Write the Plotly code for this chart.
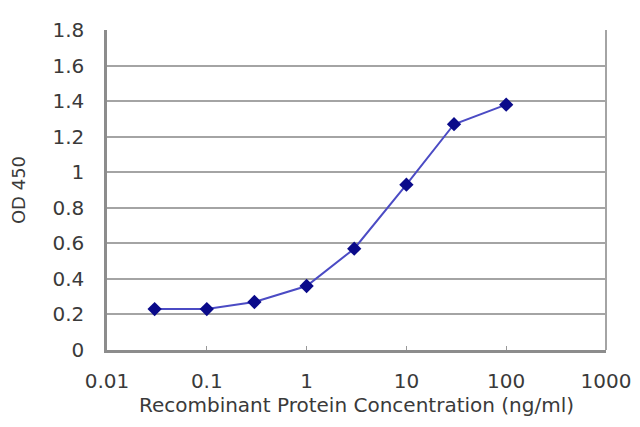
import plotly.graph_objects as go

# concentration (ng/ml) and measured OD 450
conc = [0.03, 0.1, 0.3, 1, 3, 10, 30, 100]
od450 = [0.23, 0.23, 0.27, 0.36, 0.57, 0.93, 1.27, 1.38]

x_ticks = [0.01, 0.1, 1, 10, 100, 1000]
x_labels = ["0.01", "0.1", "1", "10", "100", "1000"]
y_ticks = [0, 0.2, 0.4, 0.6, 0.8, 1.0, 1.2, 1.4, 1.6, 1.8]
y_labels = ["0", "0.2", "0.4", "0.6", "0.8", "1", "1.2", "1.4", "1.6", "1.8"]

tick_font = dict(family="DejaVu Sans", size=20, color="#3a3a3a")
title_font = dict(family="DejaVu Sans", size=20, color="#3a3a3a")
ytitle_font = dict(family="DejaVu Sans", size=18, color="#3a3a3a")

fig = go.Figure()
fig.add_trace(go.Scatter(
    x=conc, y=od450, mode="lines+markers",
    line=dict(color="#4b4bc4", width=2),
    marker=dict(symbol="diamond", size=11, color="#0a0a8a"),
    showlegend=False,
))

fig.update_xaxes(
    type="log", range=[-2, 3],
    tickvals=x_ticks, ticktext=x_labels,
    ticks="inside", ticklen=4, tickcolor="#999999",
    showgrid=False, zeroline=False,
    showline=True, linecolor="#8c8c8c", linewidth=2.5, mirror=False,
    ticklabelstandoff=11,
    title=dict(text="Recombinant Protein Concentration (ng/ml)", font=title_font, standoff=7),
    tickfont=tick_font,
)
fig.update_yaxes(
    range=[0, 1.8],
    tickvals=y_ticks, ticktext=y_labels,
    ticks="", showgrid=True, gridcolor="#a4a4a4", gridwidth=1.5,
    zeroline=False,
    showline=True, linecolor="#8c8c8c", linewidth=2.5,
    ticklabelstandoff=16,
    title=dict(text="OD 450", font=ytitle_font, standoff=31),
    tickfont=tick_font,
)

# light gray frame on the right side
fig.add_shape(type="line", xref="paper", yref="paper", x0=1, x1=1, y0=0, y1=1,
              line=dict(color="#a4a4a4", width=2))

# page body adds an 8px offset, margins compensate for it
fig.update_layout(
    width=640, height=427,
    margin=dict(l=99, r=42, t=22, b=85, autoexpand=False),
    paper_bgcolor="white", plot_bgcolor="white",
    font=tick_font,
)

fig.write_html("out.html")
